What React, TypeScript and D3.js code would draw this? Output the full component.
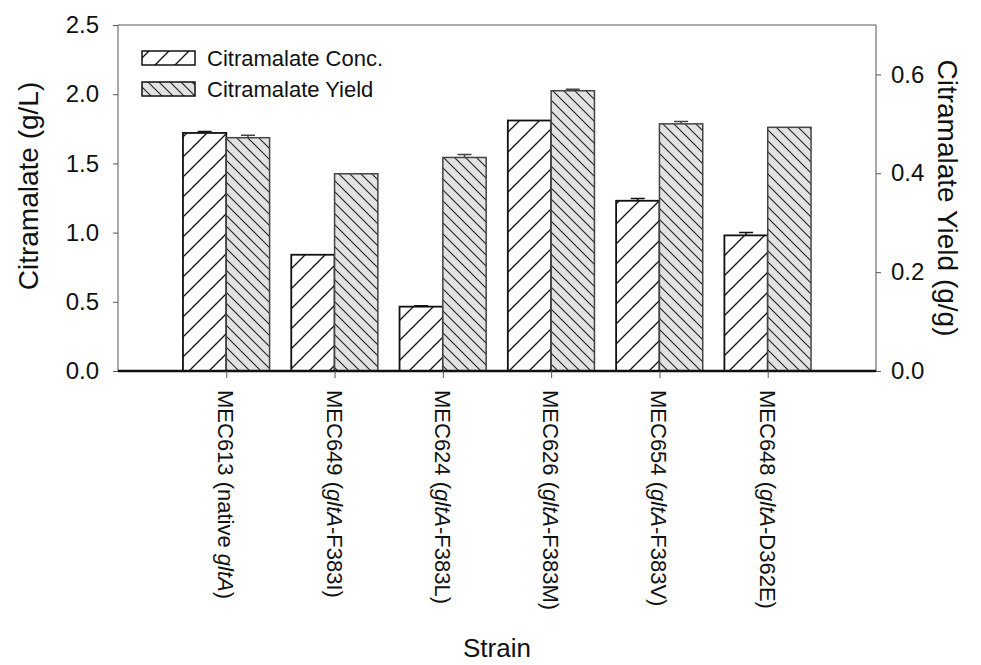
import React from 'react';
import * as d3 from 'd3';

const strains = ['MEC613', 'MEC649', 'MEC624', 'MEC626', 'MEC654', 'MEC648'];
const labelBefore = [' (native ', ' (', ' (', ' (', ' (', ' ('];
const labelAfter = [')', '-F383I)', '-F383L)', '-F383M)', '-F383V)', '-D362E)'];
const concValues = [1.72, 0.84, 0.465, 1.81, 1.23, 0.98];
const concErrors = [0.01, 0, 0.006, 0, 0.016, 0.02];
const yieldValues = [0.472, 0.399, 0.432, 0.567, 0.5, 0.493];
const yieldErrors = [0.005, 0, 0.006, 0.003, 0.005, 0];
const leftTicks = [0, 0.5, 1.0, 1.5, 2.0, 2.5];
const rightTicks = [0, 0.2, 0.4, 0.6];
const legendLabels = ['Citramalate Conc.', 'Citramalate Yield'];

const W = 981, H = 665;
const margin = { left: 118, right: 105, top: 25, bottom: 294 };
const FONT = '"Liberation Sans", Arial, sans-serif';

const App = () => {
  const ref = React.useRef<SVGSVGElement>(null);

  React.useEffect(() => {
    const svg = d3.select(ref.current);
    svg.selectAll('*').remove();
    const x0 = margin.left, x1 = W - margin.right;
    const y0 = H - margin.bottom, y1 = margin.top;

    const xScale = d3.scalePoint<string>().domain(strains).range([x0, x1]).padding(1);
    const yLeft = d3.scaleLinear().domain([0, 2.5]).range([y0, y1]);
    const yRight = d3.scaleLinear().domain([0, 0.7]).range([y0, y1]);
    const barW = xScale.step() * 0.4;

    // hatch patterns
    const defs = svg.append('defs');
    const s1 = 20;
    defs.append('pattern').attr('id', 'hatchConc').attr('patternUnits', 'userSpaceOnUse')
      .attr('width', s1).attr('height', s1)
      .call(p => {
        p.append('rect').attr('width', s1).attr('height', s1).attr('fill', '#fff');
        p.append('path').attr('d', `M-2,2 L2,-2 M0,${s1} L${s1},0 M${s1 - 2},${s1 + 2} L${s1 + 2},${s1 - 2}`)
          .attr('stroke', '#111').attr('stroke-width', 1.3);
      });
    const s2 = 11;
    defs.append('pattern').attr('id', 'hatchYield').attr('patternUnits', 'userSpaceOnUse')
      .attr('width', s2).attr('height', s2)
      .call(p => {
        p.append('rect').attr('width', s2).attr('height', s2).attr('fill', '#e2e2e2');
        p.append('path').attr('d', `M-2,${s2 - 2} L2,${s2 + 2} M0,0 L${s2},${s2} M${s2 - 2},-2 L${s2 + 2},2`)
          .attr('stroke', '#222').attr('stroke-width', 1.1);
      });

    // frame
    svg.append('path').attr('d', `M${x0},${y0} V${y1} H${x1} V${y0}`)
      .attr('fill', 'none').attr('stroke', '#555').attr('stroke-width', 1);

    // bars
    const g = svg.append('g');
    strains.forEach((s, i) => {
      const cx = xScale(s)!;
      g.append('rect').attr('x', cx - barW).attr('y', yLeft(concValues[i]))
        .attr('width', barW).attr('height', y0 - yLeft(concValues[i]))
        .attr('fill', 'url(#hatchConc)').attr('stroke', '#111').attr('stroke-width', 1.8);
      g.append('rect').attr('x', cx).attr('y', yRight(yieldValues[i]))
        .attr('width', barW).attr('height', y0 - yRight(yieldValues[i]))
        .attr('fill', 'url(#hatchYield)').attr('stroke', '#444').attr('stroke-width', 1.5);
      if (concErrors[i] > 0) {
        const ex = cx - barW / 2, yt = yLeft(concValues[i] + concErrors[i]);
        g.append('path').attr('d', `M${ex},${yLeft(concValues[i])} V${yt} M${ex - 7},${yt} H${ex + 7}`)
          .attr('stroke', '#111').attr('stroke-width', 1.5).attr('fill', 'none');
      }
      if (yieldErrors[i] > 0) {
        const ex = cx + barW / 2, yt = yRight(yieldValues[i] + yieldErrors[i]);
        g.append('path').attr('d', `M${ex},${yRight(yieldValues[i])} V${yt} M${ex - 7},${yt} H${ex + 7}`)
          .attr('stroke', '#444').attr('stroke-width', 1.5).attr('fill', 'none');
      }
    });

    // bottom axis line and ticks
    svg.append('line').attr('x1', x0).attr('x2', x1).attr('y1', y0).attr('y2', y0)
      .attr('stroke', '#111').attr('stroke-width', 2.5);
    const xAxis = svg.append('g').attr('transform', `translate(0,${y0})`)
      .call(d3.axisBottom(xScale).tickSize(7).tickFormat(() => ''));
    xAxis.select('.domain').remove();
    xAxis.selectAll('line').attr('stroke', '#555');

    // x labels
    strains.forEach((s, i) => {
      const t = svg.append('text')
        .attr('transform', `translate(${xScale(s)},${y0 + 19}) rotate(90)`)
        .attr('dominant-baseline', 'central')
        .attr('font-family', FONT).attr('font-size', 22).attr('fill', '#111');
      t.append('tspan').text(s + labelBefore[i]);
      t.append('tspan').attr('font-style', 'italic').text('gltA');
      t.append('tspan').text(labelAfter[i]);
    });

    // left axis
    const la = svg.append('g').attr('transform', `translate(${x0},0)`)
      .call(d3.axisLeft(yLeft).tickValues(leftTicks).tickFormat(d3.format('.1f')).tickSize(5).tickPadding(14));
    la.select('.domain').remove();
    la.selectAll('line').attr('stroke', '#555');
    la.selectAll('text').attr('font-family', FONT).attr('font-size', 24).attr('fill', '#111');

    // right axis
    const ra = svg.append('g').attr('transform', `translate(${x1},0)`)
      .call(d3.axisRight(yRight).tickValues(rightTicks).tickFormat(d3.format('.1f')).tickSize(5).tickPadding(10));
    ra.select('.domain').remove();
    ra.selectAll('line').attr('stroke', '#555');
    ra.selectAll('text').attr('font-family', FONT).attr('font-size', 24).attr('fill', '#111');

    // axis titles
    svg.append('text').attr('transform', `translate(38,${(y0 + y1) / 2 - 12}) rotate(-90)`)
      .attr('text-anchor', 'middle').attr('font-family', FONT).attr('font-size', 28).attr('fill', '#111')
      .text('Citramalate (g/L)');
    svg.append('text').attr('transform', `translate(938,${(y0 + y1) / 2}) rotate(90)`)
      .attr('text-anchor', 'middle').attr('font-family', FONT).attr('font-size', 28).attr('fill', '#111')
      .text('Citramalate Yield (g/g)');
    svg.append('text').attr('x', (x0 + x1) / 2).attr('y', 657)
      .attr('text-anchor', 'middle').attr('font-family', FONT).attr('font-size', 26).attr('fill', '#111')
      .text('Strain');

    // legend
    const fills = ['url(#hatchConc)', 'url(#hatchYield)'];
    legendLabels.forEach((l, i) => {
      const ly = 51 + i * 31;
      svg.append('rect').attr('x', 142).attr('y', ly).attr('width', 53).attr('height', 14)
        .attr('fill', fills[i]).attr('stroke', '#111').attr('stroke-width', 1.5);
      svg.append('text').attr('x', 207).attr('y', ly + 7).attr('dominant-baseline', 'central')
        .attr('font-family', FONT).attr('font-size', 22).attr('fill', '#111').text(l);
    });
  }, []);

  return (
    <svg ref={ref} width={W} height={H}
      style={{ position: 'absolute', left: 0, top: 0, background: '#fff' }} />
  );
};

export default App;
